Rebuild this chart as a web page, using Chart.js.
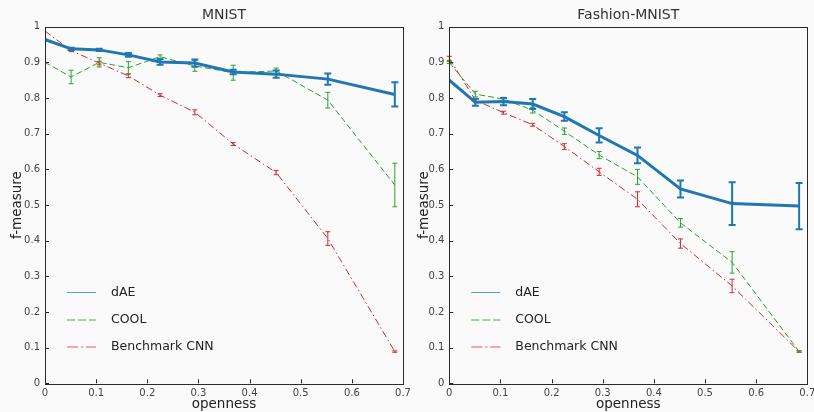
<!DOCTYPE html>
<html>
<head>
<meta charset="utf-8">
<script src="https://cdn.jsdelivr.net/npm/chart.js@4.4.1/dist/chart.umd.min.js"></script>
<style>
  html, body { margin: 0; padding: 0; background: #fafafa; overflow: hidden; }
  #wrap { position: relative; width: 814px; height: 412px; }
  #c1 { position: absolute; left: 0; top: 0; }
  #c2 { position: absolute; left: 407px; top: 0; }
</style>
</head>
<body>
<div id="wrap">
  <canvas id="c1" width="420" height="412"></canvas>
  <canvas id="c2" width="407" height="412"></canvas>
</div>
<script>
// ---- data ----
const openness = [0, 0.051, 0.106, 0.163, 0.225, 0.293, 0.368, 0.452, 0.553, 0.684];
const xTicks = [0, 0.1, 0.2, 0.3, 0.4, 0.5, 0.6, 0.7];
const yTicks = [0, 0.1, 0.2, 0.3, 0.4, 0.5, 0.6, 0.7, 0.8, 0.9, 1];
const seriesNames = ['dAE', 'COOL', 'Benchmark CNN'];
const chartTitles = ['MNIST', 'Fashion-MNIST'];

const mnistDAE     = [0.964, 0.938, 0.935, 0.921, 0.901, 0.898, 0.873, 0.867, 0.853, 0.810];
const mnistDAEErr  = [0.000, 0.003, 0.003, 0.005, 0.008, 0.010, 0.006, 0.010, 0.016, 0.034];
const mnistCOOL    = [0.900, 0.859, 0.900, 0.885, 0.916, 0.890, 0.871, 0.876, 0.794, 0.556];
const mnistCOOLErr = [0.000, 0.019, 0.013, 0.017, 0.005, 0.015, 0.021, 0.008, 0.022, 0.061];
const mnistCNN     = [0.988, 0.933, 0.898, 0.862, 0.808, 0.760, 0.671, 0.591, 0.406, 0.089];
const mnistCNNErr  = [0.000, 0.003, 0.005, 0.005, 0.004, 0.007, 0.004, 0.006, 0.019, 0.002];

const fashionDAE     = [0.850, 0.788, 0.790, 0.783, 0.748, 0.695, 0.639, 0.545, 0.504, 0.497];
const fashionDAEErr  = [0.000, 0.010, 0.010, 0.014, 0.012, 0.020, 0.022, 0.024, 0.060, 0.065];
const fashionCOOL    = [0.900, 0.811, 0.797, 0.766, 0.707, 0.640, 0.579, 0.450, 0.339, 0.089];
const fashionCOOLErr = [0.003, 0.008, 0.005, 0.008, 0.009, 0.010, 0.021, 0.012, 0.030, 0.002];
const fashionCNN     = [0.911, 0.794, 0.759, 0.725, 0.664, 0.593, 0.516, 0.392, 0.273, 0.089];
const fashionCNNErr  = [0.006, 0.004, 0.004, 0.004, 0.008, 0.010, 0.021, 0.013, 0.019, 0.002];

// ---- styles ----
const FONT = '"DejaVu Sans", sans-serif';
const BLUE = '#1f77b4', GREEN = '#2ca02c', RED = '#d62728';

function pts(ys) { return ys.map((y, i) => ({ x: openness[i], y })); }

function makeDatasets(dae, daeErr, cool, coolErr, cnn, cnnErr) {
  return [
    { label: seriesNames[0], data: pts(dae), err: daeErr, borderColor: BLUE, borderWidth: 3,
      errWidth: 2, capHalf: 3.5, legendColor: 'rgba(31,119,180,0.7)', legendDash: [] },
    { label: seriesNames[1], data: pts(cool), err: coolErr, borderColor: GREEN, borderWidth: 1,
      borderDash: [6, 3], errWidth: 1, capHalf: 2.5, legendColor: 'rgba(44,160,44,0.85)', legendDash: [8, 3] },
    { label: seriesNames[2], data: pts(cnn), err: cnnErr, borderColor: RED, borderWidth: 1,
      borderDash: [7, 3, 1.5, 3], errWidth: 1, capHalf: 2.5, legendColor: 'rgba(214,39,40,0.75)', legendDash: [11, 3, 2, 3] }
  ];
}

const decorPlugin = {
  id: 'decor',
  afterDatasetsDraw(chart) {
    const ctx = chart.ctx, xs = chart.scales.x, ys = chart.scales.y;
    ctx.save();
    for (let d = chart.data.datasets.length - 1; d >= 0; d--) {
      const ds = chart.data.datasets[d];
      ctx.strokeStyle = ds.borderColor;
      ctx.lineWidth = ds.errWidth;
      ctx.setLineDash([]);
      ds.data.forEach((p, i) => {
        const e = ds.err[i];
        if (!e) return;
        const px = xs.getPixelForValue(p.x);
        const y1 = ys.getPixelForValue(p.y + e), y2 = ys.getPixelForValue(p.y - e);
        ctx.beginPath();
        ctx.moveTo(px, y1); ctx.lineTo(px, y2);
        ctx.moveTo(px - ds.capHalf, y1); ctx.lineTo(px + ds.capHalf, y1);
        ctx.moveTo(px - ds.capHalf, y2); ctx.lineTo(px + ds.capHalf, y2);
        ctx.stroke();
      });
    }
    ctx.restore();
  },
  afterDraw(chart) {
    const ctx = chart.ctx, a = chart.chartArea, xs = chart.scales.x, ys = chart.scales.y;
    const o = chart.options.plugins.decor;
    ctx.save();
    // frame
    ctx.strokeStyle = '#2a2a2a';
    ctx.lineWidth = 1;
    ctx.setLineDash([]);
    ctx.strokeRect(Math.round(a.left) + 0.5, Math.round(a.top) + 0.5,
                   Math.round(a.right - a.left), Math.round(a.bottom - a.top));
    // inward ticks
    ctx.beginPath();
    yTicks.forEach(v => {
      const py = Math.round(ys.getPixelForValue(v)) + 0.5;
      ctx.moveTo(a.left, py); ctx.lineTo(a.left + 4, py);
    });
    xTicks.forEach(v => {
      const px = Math.round(xs.getPixelForValue(v)) + 0.5;
      ctx.moveTo(px, a.bottom); ctx.lineTo(px, a.bottom - 4);
    });
    ctx.stroke();
    // title
    const cx = (a.left + a.right) / 2;
    ctx.fillStyle = '#333';
    ctx.textAlign = 'center';
    ctx.textBaseline = 'alphabetic';
    ctx.font = '14px ' + FONT;
    ctx.fillText(o.title, cx, 18.5);
    // axis titles
    ctx.font = '13.5px ' + FONT;
    ctx.fillStyle = '#222';
    ctx.fillText('openness', cx, 408);
    ctx.save();
    ctx.translate(o.yTitleX, (a.top + a.bottom) / 2);
    ctx.rotate(-Math.PI / 2);
    ctx.textBaseline = 'middle';
    ctx.fillText('f-measure', 0, 0);
    ctx.restore();
    // legend
    ctx.font = '12.5px ' + FONT;
    ctx.textAlign = 'left';
    ctx.textBaseline = 'middle';
    const lx0 = a.left + 22, lx1 = a.left + 51, tx = a.left + 66;
    const ly = [292.5, 320, 347];
    chart.data.datasets.forEach((ds, i) => {
      ctx.strokeStyle = ds.legendColor;
      ctx.lineWidth = 1;
      ctx.setLineDash(ds.legendDash);
      ctx.beginPath();
      ctx.moveTo(lx0, ly[i]); ctx.lineTo(lx1, ly[i]);
      ctx.stroke();
      ctx.fillStyle = '#222';
      ctx.fillText(ds.label, tx, ly[i]);
    });
    ctx.restore();
  }
};

function makeChart(id, title, datasets, yAxisWidth, rightPad, yTitleX) {
  return new Chart(document.getElementById(id), {
    type: 'line',
    data: { datasets },
    plugins: [decorPlugin],
    options: {
      responsive: false,
      animation: false,
      events: [],
      layout: { padding: { top: 26.7, right: rightPad, left: 0, bottom: 0 } },
      elements: { point: { radius: 0 }, line: { tension: 0, borderCapStyle: 'butt' } },
      plugins: {
        legend: { display: false },
        tooltip: { enabled: false },
        decor: { title, yTitleX }
      },
      scales: {
        x: {
          type: 'linear', min: 0, max: 0.7,
          grid: { display: false, drawTicks: false },
          border: { display: false },
          afterBuildTicks: s => { s.ticks = xTicks.map(v => ({ value: v })); },
          ticks: { autoSkip: false, maxRotation: 0, padding: 4, color: '#444',
                   font: { family: FONT, size: 10 },
                   callback: v => String(+(+v).toFixed(1)) },
          afterFit: s => { s.height = 28.7; s.paddingLeft = 0; s.paddingRight = 0; }
        },
        y: {
          type: 'linear', min: 0, max: 1,
          grid: { display: false, drawTicks: false },
          border: { display: false },
          afterBuildTicks: s => { s.ticks = yTicks.map(v => ({ value: v })); },
          ticks: { autoSkip: false, padding: 5, color: '#444',
                   font: { family: FONT, size: 10 },
                   callback: v => String(+(+v).toFixed(1)) },
          afterFit: s => { s.width = yAxisWidth; s.paddingTop = 0; s.paddingBottom = 0; }
        }
      }
    }
  });
}

makeChart('c1', chartTitles[0],
  makeDatasets(mnistDAE, mnistDAEErr, mnistCOOL, mnistCOOLErr, mnistCNN, mnistCNNErr),
  45, 17, 17.5);
makeChart('c2', chartTitles[1],
  makeDatasets(fashionDAE, fashionDAEErr, fashionCOOL, fashionCOOLErr, fashionCNN, fashionCNNErr),
  42.3, 6.7, 17.5);
</script>
</body>
</html>
